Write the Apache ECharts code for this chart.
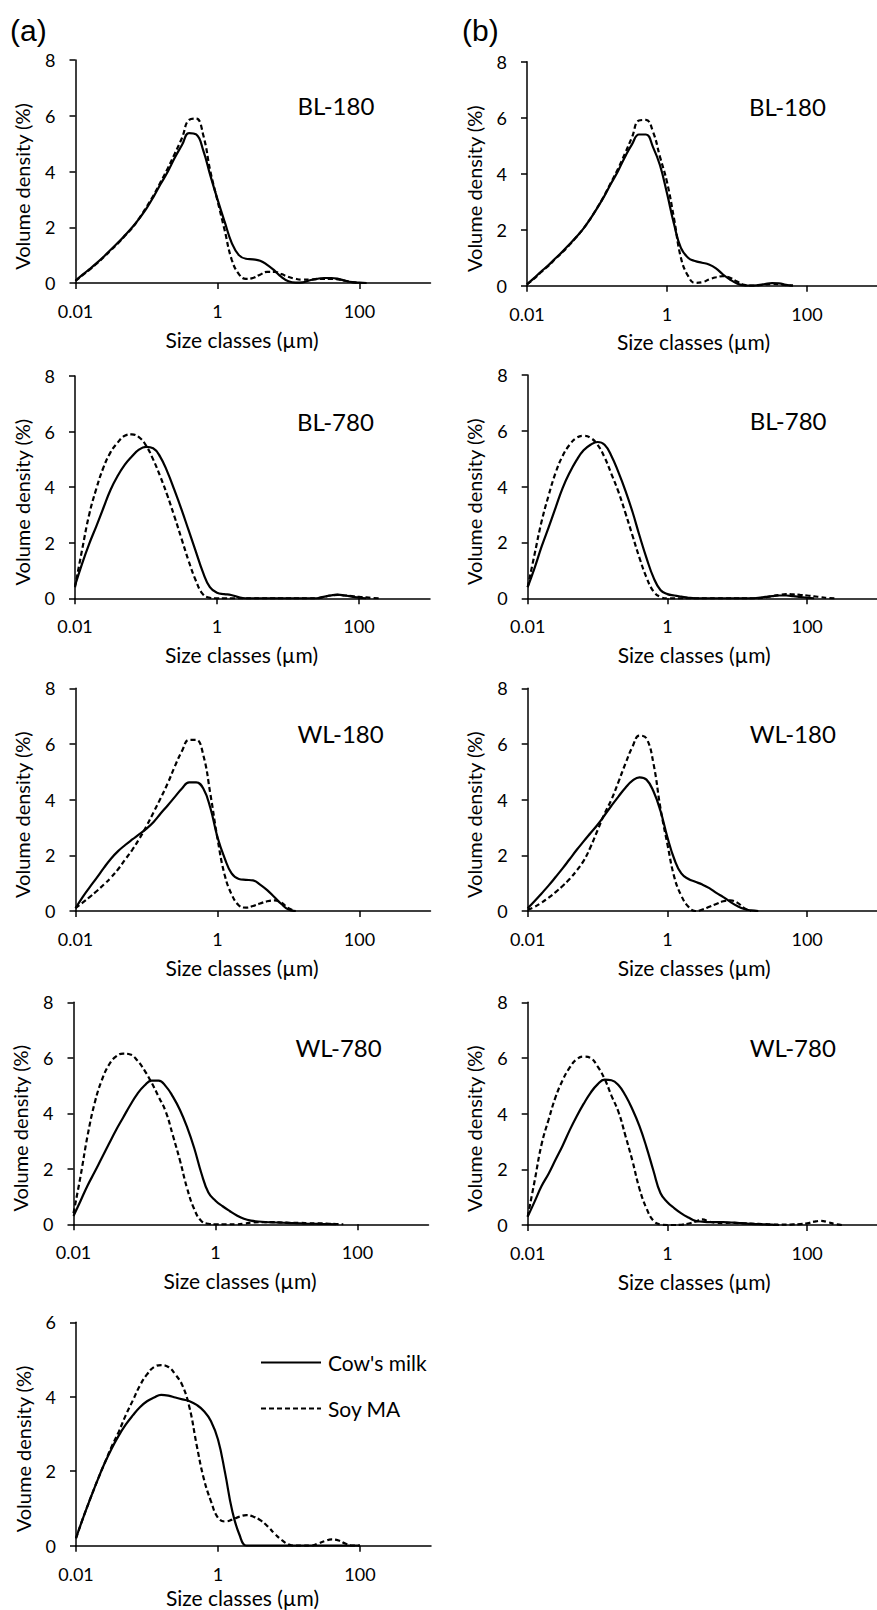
<!DOCTYPE html>
<html><head><meta charset="utf-8">
<script src="https://cdn.jsdelivr.net/npm/echarts@6/dist/echarts.min.js"></script>
<style>html,body{margin:0;padding:0;background:#fff}#c{width:877px;height:1610px}</style>
</head><body><div id="c"></div>
<script>
// Size classes (µm), 10 per decade
const sizes = [0.01,0.0126,0.0158,0.02,0.0251,0.0316,0.0398,0.0501,0.0631,0.0794,
  0.1,0.126,0.158,0.2,0.251,0.316,0.398,0.501,0.631,0.794,
  1,1.26,1.58,2,2.51,3.16,3.98,5.01,6.31,7.94,
  10,12.6,15.8,20,25.1,31.6,39.8,50.1,63.1,79.4,
  100,126,158,200,251,316,398,501,631,794,1000];
const xTickValues = [0.01, 1, 100];
const panelLabels = ['BL-180','BL-180','BL-780','BL-780','WL-180','WL-180','WL-780','WL-780',''];
const yMax = [8,8,8,8,8,8,8,8,6];
const seriesNames = ["Cow's milk", "Soy MA"];

// Volume density (%) per size class
const bl180a_cow = [0.08,0.3,0.5,0.72,0.95,1.2,1.45,1.72,2.0,2.32,2.68,3.1,3.55,4.0,4.5,4.95,5.38,5.33,4.75,3.85,3.0,2.2,1.45,1.0,0.87,0.85,0.8,0.65,0.45,0.22,0.06,0.01,0.02,0.1,0.15,0.18,0.18,0.15,0.08,0.03,0.01,0];
const bl180a_soy = [0.08,0.28,0.48,0.7,0.93,1.18,1.43,1.7,1.98,2.33,2.73,3.15,3.62,4.12,4.65,5.2,5.85,5.9,5.3,4.0,2.95,1.9,0.85,0.32,0.15,0.18,0.3,0.4,0.4,0.32,0.22,0.15,0.12,0.12,0.14,0.15,0.15,0.13,0.08,0.03,0];
const bl180b_cow = [0.05,0.27,0.5,0.72,0.96,1.2,1.46,1.73,2.02,2.37,2.76,3.18,3.64,4.1,4.6,5.05,5.4,5.4,4.95,4.3,3.3,2.2,1.35,1.0,0.88,0.82,0.76,0.62,0.4,0.22,0.08,0.01,0,0.02,0.06,0.09,0.08,0.03,0];
const bl180b_soy = [0.05,0.25,0.48,0.7,0.94,1.18,1.44,1.72,2.02,2.37,2.77,3.2,3.68,4.18,4.72,5.3,5.9,5.92,5.5,4.6,3.7,2.4,1.0,0.35,0.1,0.12,0.22,0.3,0.34,0.28,0.15,0.03,0,0.01,0.04,0.06,0.05,0.02,0];
const bl780a_cow = [0.45,1.25,1.95,2.6,3.25,3.9,4.4,4.8,5.1,5.35,5.45,5.4,5.1,4.55,3.9,3.2,2.45,1.7,0.95,0.4,0.2,0.15,0.12,0.04,0,0,0,0,0,0,0,0,0,0,0,0.05,0.1,0.13,0.1,0.06,0.02,0];
const bl780a_soy = [0.4,1.75,3.0,3.95,4.7,5.25,5.6,5.85,5.9,5.8,5.5,5.0,4.4,3.7,2.95,2.15,1.35,0.65,0.15,0.02,0,0,0,0,0,0,0,0,0,0,0,0,0,0,0,0.05,0.1,0.12,0.1,0.08,0.05,0.03,0.01,0];
const bl780b_cow = [0.4,1.1,1.85,2.55,3.25,3.95,4.5,4.95,5.3,5.5,5.6,5.5,5.1,4.5,3.85,3.1,2.25,1.45,0.75,0.3,0.15,0.1,0.06,0.02,0,0,0,0,0,0,0,0,0,0.02,0.05,0.08,0.1,0.1,0.08,0.05,0.02,0];
const bl780b_soy = [0.4,1.6,2.75,3.7,4.5,5.1,5.5,5.75,5.82,5.75,5.5,5.05,4.45,3.8,3.05,2.25,1.45,0.75,0.25,0.05,0,0,0,0,0,0,0,0,0,0,0,0,0,0,0.03,0.08,0.12,0.15,0.14,0.12,0.1,0.07,0.04,0.01,0];
const wl180a_cow = [0.1,0.5,0.85,1.2,1.55,1.88,2.15,2.37,2.57,2.76,2.96,3.2,3.5,3.8,4.1,4.4,4.62,4.62,4.4,3.7,2.65,1.9,1.35,1.15,1.12,1.1,0.95,0.75,0.5,0.25,0.05,0];
const wl180a_soy = [0.1,0.3,0.5,0.72,0.95,1.2,1.5,1.85,2.2,2.6,3.05,3.55,4.05,4.6,5.2,5.75,6.15,6.15,5.6,4.2,2.6,1.3,0.6,0.2,0.12,0.18,0.27,0.35,0.38,0.3,0.1,0];
const wl180b_cow = [0.1,0.36,0.63,0.92,1.22,1.53,1.86,2.19,2.5,2.8,3.1,3.44,3.78,4.12,4.43,4.68,4.8,4.72,4.3,3.6,2.65,1.85,1.35,1.15,1.05,0.95,0.82,0.65,0.5,0.33,0.18,0.07,0.02,0];
const wl180b_soy = [0.05,0.15,0.3,0.48,0.68,0.9,1.15,1.45,1.8,2.3,2.9,3.5,4.0,4.65,5.3,5.9,6.3,6.2,5.3,3.7,2.4,1.2,0.55,0.15,0,0.05,0.15,0.25,0.35,0.38,0.3,0.1,0];
const wl780a_cow = [0.3,0.85,1.4,1.9,2.4,2.9,3.4,3.85,4.3,4.7,5.0,5.18,5.18,4.97,4.6,4.12,3.5,2.75,1.85,1.15,0.85,0.65,0.48,0.32,0.2,0.13,0.1,0.08,0.07,0.06,0.05,0.04,0.03,0.02,0.02,0.01,0.01,0];
const wl780a_soy = [0.4,1.75,3.2,4.4,5.2,5.75,6.05,6.15,6.12,5.9,5.55,5.1,4.6,4.05,3.2,2.3,1.3,0.55,0.12,0.02,0,0,0,0,0.02,0.06,0.08,0.08,0.08,0.07,0.06,0.05,0.05,0.04,0.03,0.03,0.02,0.01,0];
const wl780b_cow = [0.3,0.85,1.4,1.85,2.35,2.85,3.4,3.9,4.35,4.75,5.05,5.22,5.2,5.02,4.65,4.15,3.55,2.8,1.95,1.15,0.82,0.6,0.42,0.27,0.15,0.12,0.1,0.1,0.1,0.09,0.08,0.06,0.04,0.03,0.02,0.01,0];
const wl780b_soy = [0.3,1.6,2.9,3.8,4.6,5.2,5.65,5.95,6.05,6.0,5.7,5.25,4.65,4.05,3.2,2.3,1.3,0.6,0.15,0.02,0,0,0.01,0.05,0.12,0.2,0.12,0.08,0.07,0.08,0.07,0.06,0.05,0.04,0.03,0.02,0.01,0.01,0.02,0.03,0.06,0.12,0.15,0.1,0.03,0];
const ref_cow = [0.2,0.75,1.25,1.75,2.2,2.6,2.95,3.25,3.5,3.72,3.88,3.98,4.05,4.03,3.98,3.93,3.88,3.78,3.62,3.35,2.85,1.95,0.95,0.3,0,0,0,0,0,0,0,0,0,0,0,0,0,0,0,0,0];
const ref_soy = [0.2,0.75,1.25,1.75,2.2,2.65,3.05,3.5,3.9,4.3,4.6,4.8,4.85,4.8,4.6,4.3,3.7,2.7,1.8,1.2,0.75,0.65,0.7,0.78,0.82,0.78,0.68,0.52,0.32,0.15,0.03,0,0,0,0.05,0.12,0.17,0.14,0.05,0,0];

const panelData = [
  [bl180a_cow, bl180a_soy], [bl180b_cow, bl180b_soy],
  [bl780a_cow, bl780a_soy], [bl780b_cow, bl780b_soy],
  [wl180a_cow, wl180a_soy], [wl180b_cow, wl180b_soy],
  [wl780a_cow, wl780a_soy], [wl780b_cow, wl780b_soy],
  [ref_cow, ref_soy]
];

// layout (px)
const gridBoxes = [
  {left:75.5, top:60,     height:223},
  {left:527,  top:61.7,   height:224},
  {left:75,   top:376,    height:222.3},
  {left:527.7,top:375,    height:223.3},
  {left:75.5, top:688.3,  height:222.7},
  {left:527.7,top:688.3,  height:222.7},
  {left:73.5, top:1002.3, height:222},
  {left:527.7,top:1002.3, height:222.7},
  {left:76,   top:1322.3, height:223.4}
];
const plotWidth = 355;
const FONT = 'Lato, "Open Sans", sans-serif';
const BLACK = '#000';

function tickFmt(v) {
  const t = xTickValues.find(t => Math.abs(Math.log10(t) - Math.log10(v)) < 1e-6);
  return t === undefined ? '' : String(t);
}

const grids = [], xAxes = [], yAxes = [], series = [], graphics = [];
gridBoxes.forEach((g, i) => {
  grids.push({left:g.left, top:g.top, width:plotWidth, height:g.height});
  xAxes.push({
    type:'log', logBase:10, gridIndex:i, min:0.01, max:1000,
    axisLine:{onZero:false, lineStyle:{color:BLACK, width:1.5}},
    axisTick:{show:true, length:6, lineStyle:{color:BLACK, width:1.5}, customValues:xTickValues},
    axisLabel:{customValues:xTickValues, formatter:tickFmt, margin:19, fontSize:18, fontFamily:FONT, color:BLACK},
    splitLine:{show:false}, minorTick:{show:false}
  });
  yAxes.push({
    type:'value', gridIndex:i, min:0, max:yMax[i], interval:2,
    axisLine:{show:true, lineStyle:{color:BLACK, width:1.5}},
    axisTick:{show:true, length:6, lineStyle:{color:BLACK, width:1.5}},
    axisLabel:{margin:20, fontSize:18, fontFamily:FONT, color:BLACK},
    splitLine:{show:false}
  });
  panelData[i].forEach((vals, s) => {
    series.push({
      name: seriesNames[s], type:'line', xAxisIndex:i, yAxisIndex:i,
      data: vals.map((v, j) => [sizes[j], v]),
      symbol:'none', showSymbol:false, smooth:0.45, silent:true,
      lineStyle:{color:BLACK, width:2.2, type: s === 0 ? 'solid' : [5,3]},
      itemStyle:{color:BLACK}
    });
  });
  graphics.push({type:'text', x:g.left - 53.5, y:g.top + g.height/2 + 15, rotation:Math.PI/2,
    style:{text:'Volume density (%)', font:'20px ' + FONT, fill:BLACK, textAlign:'center', textVerticalAlign:'middle'}});
  graphics.push({type:'text', x:g.left + plotWidth/2 - 11, y:Math.min(g.top + g.height + 56, 1597),
    style:{text:'Size classes (µm)', font:'21px ' + FONT, fill:BLACK, textAlign:'center', textVerticalAlign:'middle'}});
  if (panelLabels[i]) {
    graphics.push({type:'text', x:g.left + 222, y:g.top + 45,
      style:{text:panelLabels[i], font:'24px ' + FONT, fill:BLACK, textAlign:'left', textVerticalAlign:'middle'}});
  }
});
graphics.push({type:'text', x:10, y:30, style:{text:'(a)', font:'30px "Liberation Sans", Arial, sans-serif', fill:BLACK, textAlign:'left', textVerticalAlign:'middle'}});
graphics.push({type:'text', x:462, y:30, style:{text:'(b)', font:'30px "Liberation Sans", Arial, sans-serif', fill:BLACK, textAlign:'left', textVerticalAlign:'middle'}});

const legendCommon = {orient:'vertical', left:260, itemWidth:60, itemHeight:14, itemGap:10, padding:0,
  selectedMode:false, itemStyle:{opacity:0},
  textStyle:{fontSize:21, fontFamily:FONT, color:BLACK, padding:[0,0,0,2]}};
const chart = echarts.init(document.getElementById('c'), null, {renderer:'svg'});
chart.setOption({
  animation:false,
  backgroundColor:'#fff',
  grid: grids, xAxis: xAxes, yAxis: yAxes, series: series,
  legend: [
    Object.assign({}, legendCommon, {data:[seriesNames[0]], top:1352}),
    Object.assign({}, legendCommon, {data:[seriesNames[1]], top:1398})
  ],
  graphic: graphics
});
</script></body></html>
